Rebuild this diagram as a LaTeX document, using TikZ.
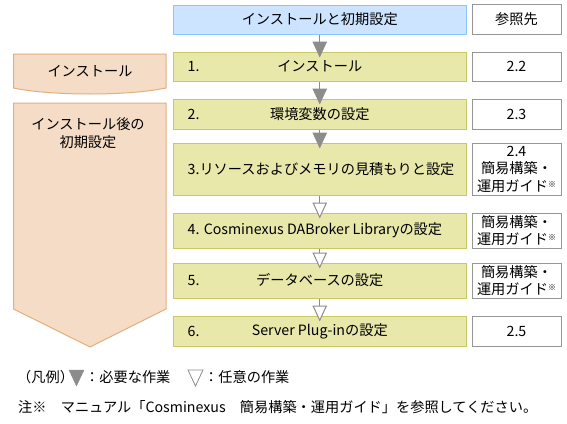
\documentclass[tikz,border=0pt]{standalone}
\usepackage{fontspec}
\setmainfont{Noto Sans CJK JP}
\usetikzlibrary{arrows.meta}

\definecolor{headfill}{RGB}{204,228,255}
\definecolor{headline}{RGB}{140,196,255}
\definecolor{stepfill}{RGB}{232,232,170}
\definecolor{stepline}{RGB}{200,200,100}
\definecolor{phasefill}{RGB}{245,220,198}
\definecolor{phaseline}{RGB}{224,176,128}
\definecolor{flowgray}{RGB}{140,140,140}
\definecolor{refline}{RGB}{150,150,150}

\newcommand{\refmark}{\raisebox{4pt}{\fontsize{8}{8}\selectfont ※}}

\begin{document}
\begin{tikzpicture}[
  x=1pt,y=-1pt,
  font=\fontsize{14.2}{17.5}\selectfont,
  stepbox/.style={draw=stepline,fill=stepfill,line width=1pt,minimum width=292.5pt,inner sep=0pt},
  headbox/.style={stepbox,draw=headline,fill=headfill},
  refbox/.style={draw=refline,fill=white,line width=1pt,minimum width=89pt,inner sep=1pt,align=center},
  num/.style={anchor=west,inner sep=0pt},
  phase/.style={draw=phaseline,fill=phasefill,line width=1pt},
  must/.style={draw=flowgray,line width=1pt,-{Triangle[length=16pt,width=14.5pt]},shorten >=-6pt},
  may/.style={must,-{Triangle[open,fill=white,length=16pt,width=14.5pt]}}
]
  \useasboundingbox (0,0) rectangle (567,423);

  \draw[phase] (13.5,54) -- (166,54) -- (166,88) .. controls (128,96) and (51,96) .. (13.5,88) -- cycle;
  \node (p1) at (90,71) {インストール};
  \draw[phase] (13.5,103) -- (166,103) -- (166,309) -- (90,347) -- (13.5,309) -- cycle;
  \node[align=center] (p2) at (88,133) {インストール後の\\初期設定};

  \node[headbox,minimum height=29pt] (head) at (319.75,19.5) {インストールと初期設定};
  \node[refbox,minimum height=30pt] (hr) at (516.5,19.5) {参照先};

  \node[stepbox,minimum height=29pt] (s1) at (319.75,66.5) {インストール};
  \node[num] (n1) at ([xshift=14.5pt]s1.west) {1.};
  \node[stepbox,minimum height=30pt] (s2) at (319.75,114) {環境変数の設定};
  \node[num] (n2) at ([xshift=14.5pt]s2.west) {2.};
  \node[stepbox,minimum height=52pt] (s3) at (319.75,169) {};
  \node[num] (n3) at ([xshift=14.5pt]s3.west) {3.リソースおよびメモリの見積もりと設定};
  \node[stepbox,minimum height=35pt] (s4) at (319.75,230.5) {};
  \node[num] (n4) at ([xshift=14.5pt]s4.west) {4. Cosminexus DABroker Libraryの設定};
  \node[stepbox,minimum height=35pt] (s5) at (319.75,280.5) {データベースの設定};
  \node[num] (n5) at ([xshift=14.5pt]s5.west) {5.};
  \node[stepbox,minimum height=30pt] (s6) at (319.75,331) {Server Plug-inの設定};
  \node[num] (n6) at ([xshift=14.5pt]s6.west) {6.};

  \node[refbox,minimum height=29pt] (r1) at (516.5,66.5) {2.2};
  \node[refbox,minimum height=30pt] (r2) at (516.5,114) {2.3};
  \node[refbox,minimum height=52pt] (r3) at (516.5,169) {2.4\\簡易構築・\\運用ガイド\refmark};
  \node[refbox,minimum height=35pt] (r4) at (516.5,230.5) {簡易構築・\\運用ガイド\refmark};
  \node[refbox,minimum height=35pt] (r5) at (516.5,280.5) {簡易構築・\\運用ガイド\refmark};
  \node[refbox,minimum height=30pt] (r6) at (516.5,331) {2.5};

  \draw[must] (head) -- (s1);
  \draw[must] (s1) -- (s2);
  \draw[must] (s2) -- (s3);
  \draw[may] (s3) -- (s4);
  \draw[may] (s4) -- (s5);
  \draw[may] (s5) -- (s6);

  \node[num] (lg) at (17,377) {（凡例）};
  \filldraw[flowgray] (69,370) -- (84,370) -- (76.5,386) -- cycle;
  \node[num] (lgmust) at (85,377) {：必要な作業};
  \draw[flowgray,fill=white,line width=0.8pt] (188,370) -- (203,370) -- (195.5,386) -- cycle;
  \node[num] (lgmay) at (204,377) {：任意の作業};
  \node[num] (note) at (18,407) {注※　マニュアル「Cosminexus　簡易構築・運用ガイド」を参照してください。};
\end{tikzpicture}
\end{document}
